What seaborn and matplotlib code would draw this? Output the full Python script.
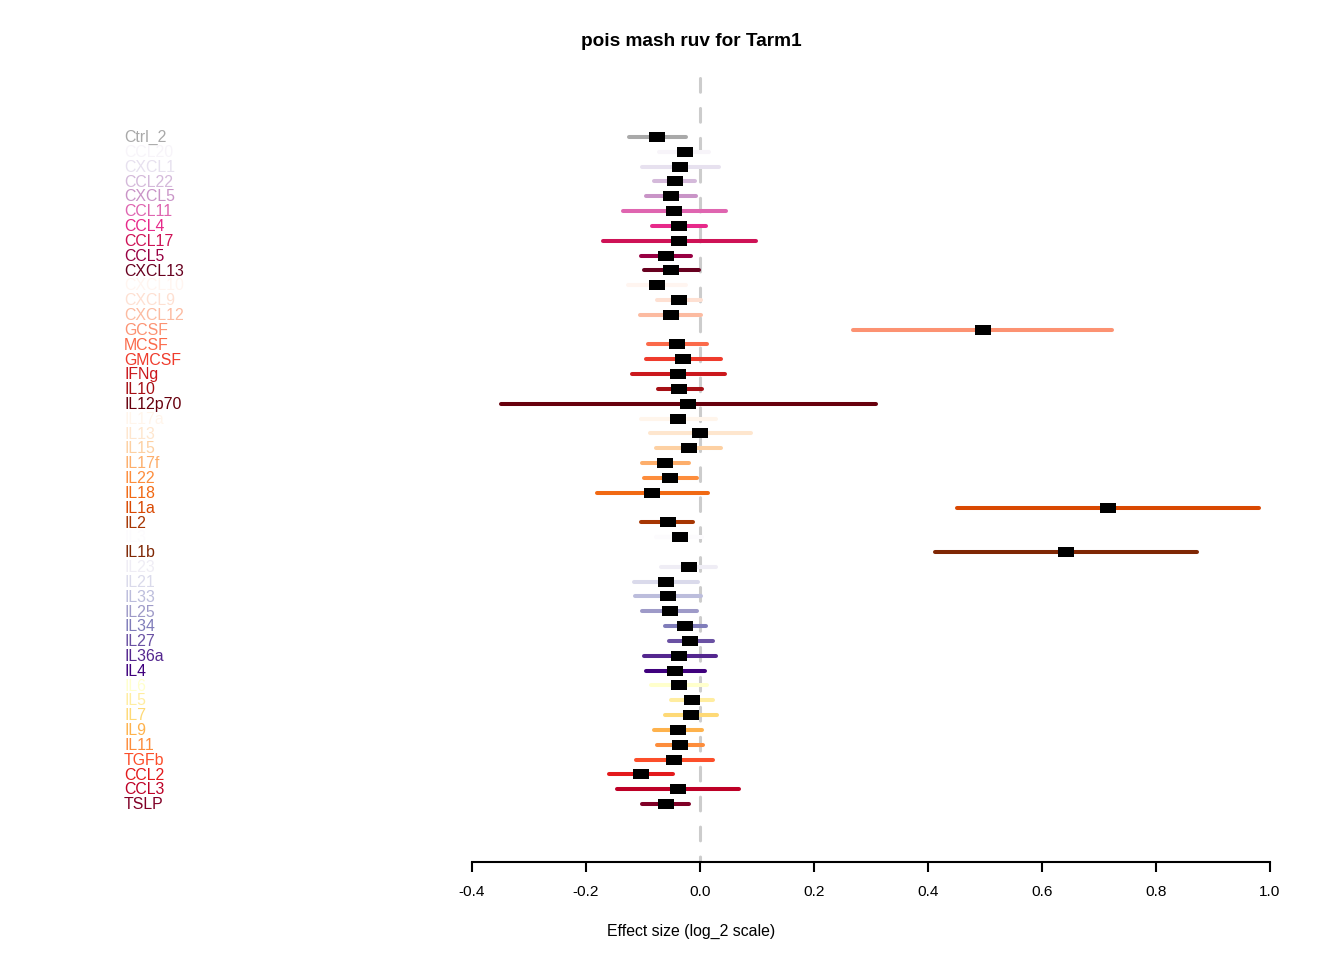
import matplotlib
matplotlib.use("Agg")
import matplotlib.pyplot as plt
from matplotlib.path import Path
import seaborn as sns
import pandas as pd

# rows from top to bottom
labels = ["Ctrl_2", "CCL20", "CXCL1", "CCL22", "CXCL5", "CCL11", "CCL4", "CCL17", "CCL5", "CXCL13",
          "CXCL10", "CXCL9", "CXCL12", "GCSF", "MCSF", "GMCSF", "IFNg", "IL10", "IL12p70",
          "IL17a", "IL13", "IL15", "IL17f", "IL22", "IL18", "IL1a", "IL2", "IL3", "IL1b",
          "IL23", "IL21", "IL33", "IL25", "IL34", "IL27", "IL36a", "IL4",
          "IL6", "IL5", "IL7", "IL9", "IL11", "TGFb", "CCL2", "CCL3", "TSLP"]

effect = [-0.075, -0.027, -0.035, -0.044, -0.050, -0.045, -0.037, -0.037, -0.060, -0.050,
          -0.076, -0.036, -0.051, 0.496, -0.040, -0.029, -0.038, -0.036, -0.021,
          -0.038, 0.000, -0.020, -0.061, -0.053, -0.084, 0.716, -0.057, -0.035, 0.642,
          -0.020, -0.060, -0.056, -0.053, -0.026, -0.017, -0.036, -0.043,
          -0.037, -0.014, -0.016, -0.039, -0.035, -0.045, -0.104, -0.039, -0.060]

lower = [-0.125, -0.072, -0.102, -0.080, -0.094, -0.135, -0.085, -0.171, -0.104, -0.098,
         -0.127, -0.075, -0.105, 0.268, -0.091, -0.095, -0.120, -0.074, -0.349,
         -0.104, -0.088, -0.077, -0.101, -0.099, -0.181, 0.451, -0.104, -0.077, 0.412,
         -0.069, -0.116, -0.114, -0.101, -0.062, -0.055, -0.099, -0.094,
         -0.086, -0.050, -0.061, -0.081, -0.075, -0.113, -0.160, -0.146, -0.102]

upper = [-0.025, 0.016, 0.034, -0.008, -0.007, 0.045, 0.011, 0.098, -0.016, -0.002,
         -0.025, 0.001, 0.001, 0.723, 0.012, 0.037, 0.044, 0.004, 0.309,
         0.028, 0.089, 0.036, -0.020, -0.005, 0.014, 0.981, -0.012, 0.003, 0.872,
         0.028, -0.004, 0.001, -0.005, 0.011, 0.022, 0.028, 0.008,
         0.012, 0.022, 0.029, 0.004, 0.005, 0.023, -0.047, 0.069, -0.019]

colors = ["#A9A9A9",
          "#F7F4F9", "#E7E1EF", "#D4B9DA", "#C994C7", "#DF65B0", "#E7298A", "#CE1256", "#980043", "#67001F",
          "#FFF5F0", "#FEE0D2", "#FCBBA1", "#FC9272", "#FB6A4A", "#EF3B2C", "#CB181D", "#A50F15", "#67000D",
          "#FFF5EB", "#FEE6CE", "#FDD0A2", "#FDAE6B", "#FD8D3C", "#F16913", "#D94801", "#A63603",
          "#FCFBFD", "#7F2704",
          "#EFEDF5", "#DADAEB", "#BCBDDC", "#9E9AC8", "#807DBA", "#6A51A3", "#54278F", "#3F007D",
          "#FFFFCC", "#FFEDA0", "#FED976", "#FEB24C", "#FD8D3C", "#FC4E2A", "#E31A1C", "#BD0026", "#800026"]

xticks = [-0.4, -0.2, 0.0, 0.2, 0.4, 0.6, 0.8, 1.0]

sns.set_style("white")
plt.rcParams['font.family'] = ['Liberation Sans', 'DejaVu Sans']
plt.rcParams['axes.unicode_minus'] = False
plt.rcParams['text.color'] = 'black'
plt.rcParams['xtick.color'] = 'black'
plt.rcParams['xtick.labelcolor'] = 'black'

df = pd.DataFrame({"label": labels, "effect": effect, "lower": lower,
                   "upper": upper, "color": colors})
df["row"] = range(len(df), 0, -1)

fig = plt.figure(figsize=(13.44, 9.6), dpi=100)
ax = fig.add_axes([0, 98 / 960, 1, 862 / 960])
ax.set_xlim(-700 / 570, 644 / 570)
ax.set_ylim(-2.915, 55.24)

# reference line at zero
ax.plot([0, 0], [50, -2.915], color="#cccccc", linewidth=2.2,
        linestyle=(0, (4.5, 5.3)), dash_capstyle="round", zorder=1)

# intervals
lc = ax.hlines(df["row"], df["lower"], df["upper"], colors=df["color"],
               linewidth=2.9, zorder=2)
lc.set_capstyle("round")

# point estimates as black boxes
box = Path([(-1, -0.69), (1, -0.69), (1, 0.69), (-1, 0.69), (-1, -0.69)],
           [Path.MOVETO, Path.LINETO, Path.LINETO, Path.LINETO, Path.CLOSEPOLY])
sns.scatterplot(data=df, x="effect", y="row", marker=box, s=128, color="black",
                linewidth=0, zorder=3, ax=ax, legend=False)

# row labels
for _, r in df.iterrows():
    ax.text(-1.0105, r["row"] - 0.05, r["label"], color=r["color"], ha="left",
            va="center", fontsize=11.4)

for side in ["top", "right", "left"]:
    ax.spines[side].set_visible(False)
ax.spines["bottom"].set_bounds(-0.4, 1.0)
ax.spines["bottom"].set_linewidth(1.5)
ax.spines["bottom"].set_color("black")
ax.set_xticks(xticks)
ax.set_xticklabels([f"{t:.1f}" for t in xticks], fontsize=11.1)
ax.tick_params(axis="x", direction="out", length=7.5, width=1.5, pad=9, bottom=True,
               colors="black")
ax.set_yticks([])
ax.set_xlabel("")
ax.set_ylabel("")

fig.text(691 / 1344, 1 - 41 / 960, "pois mash ruv for Tarm1", ha="center",
         va="center", fontsize=13.7, fontweight="bold")
fig.text(691 / 1344, 1 - 931 / 960, "Effect size (log_2 scale)", ha="center",
         va="center", fontsize=11.4)

fig.savefig("out.png", dpi=100)
